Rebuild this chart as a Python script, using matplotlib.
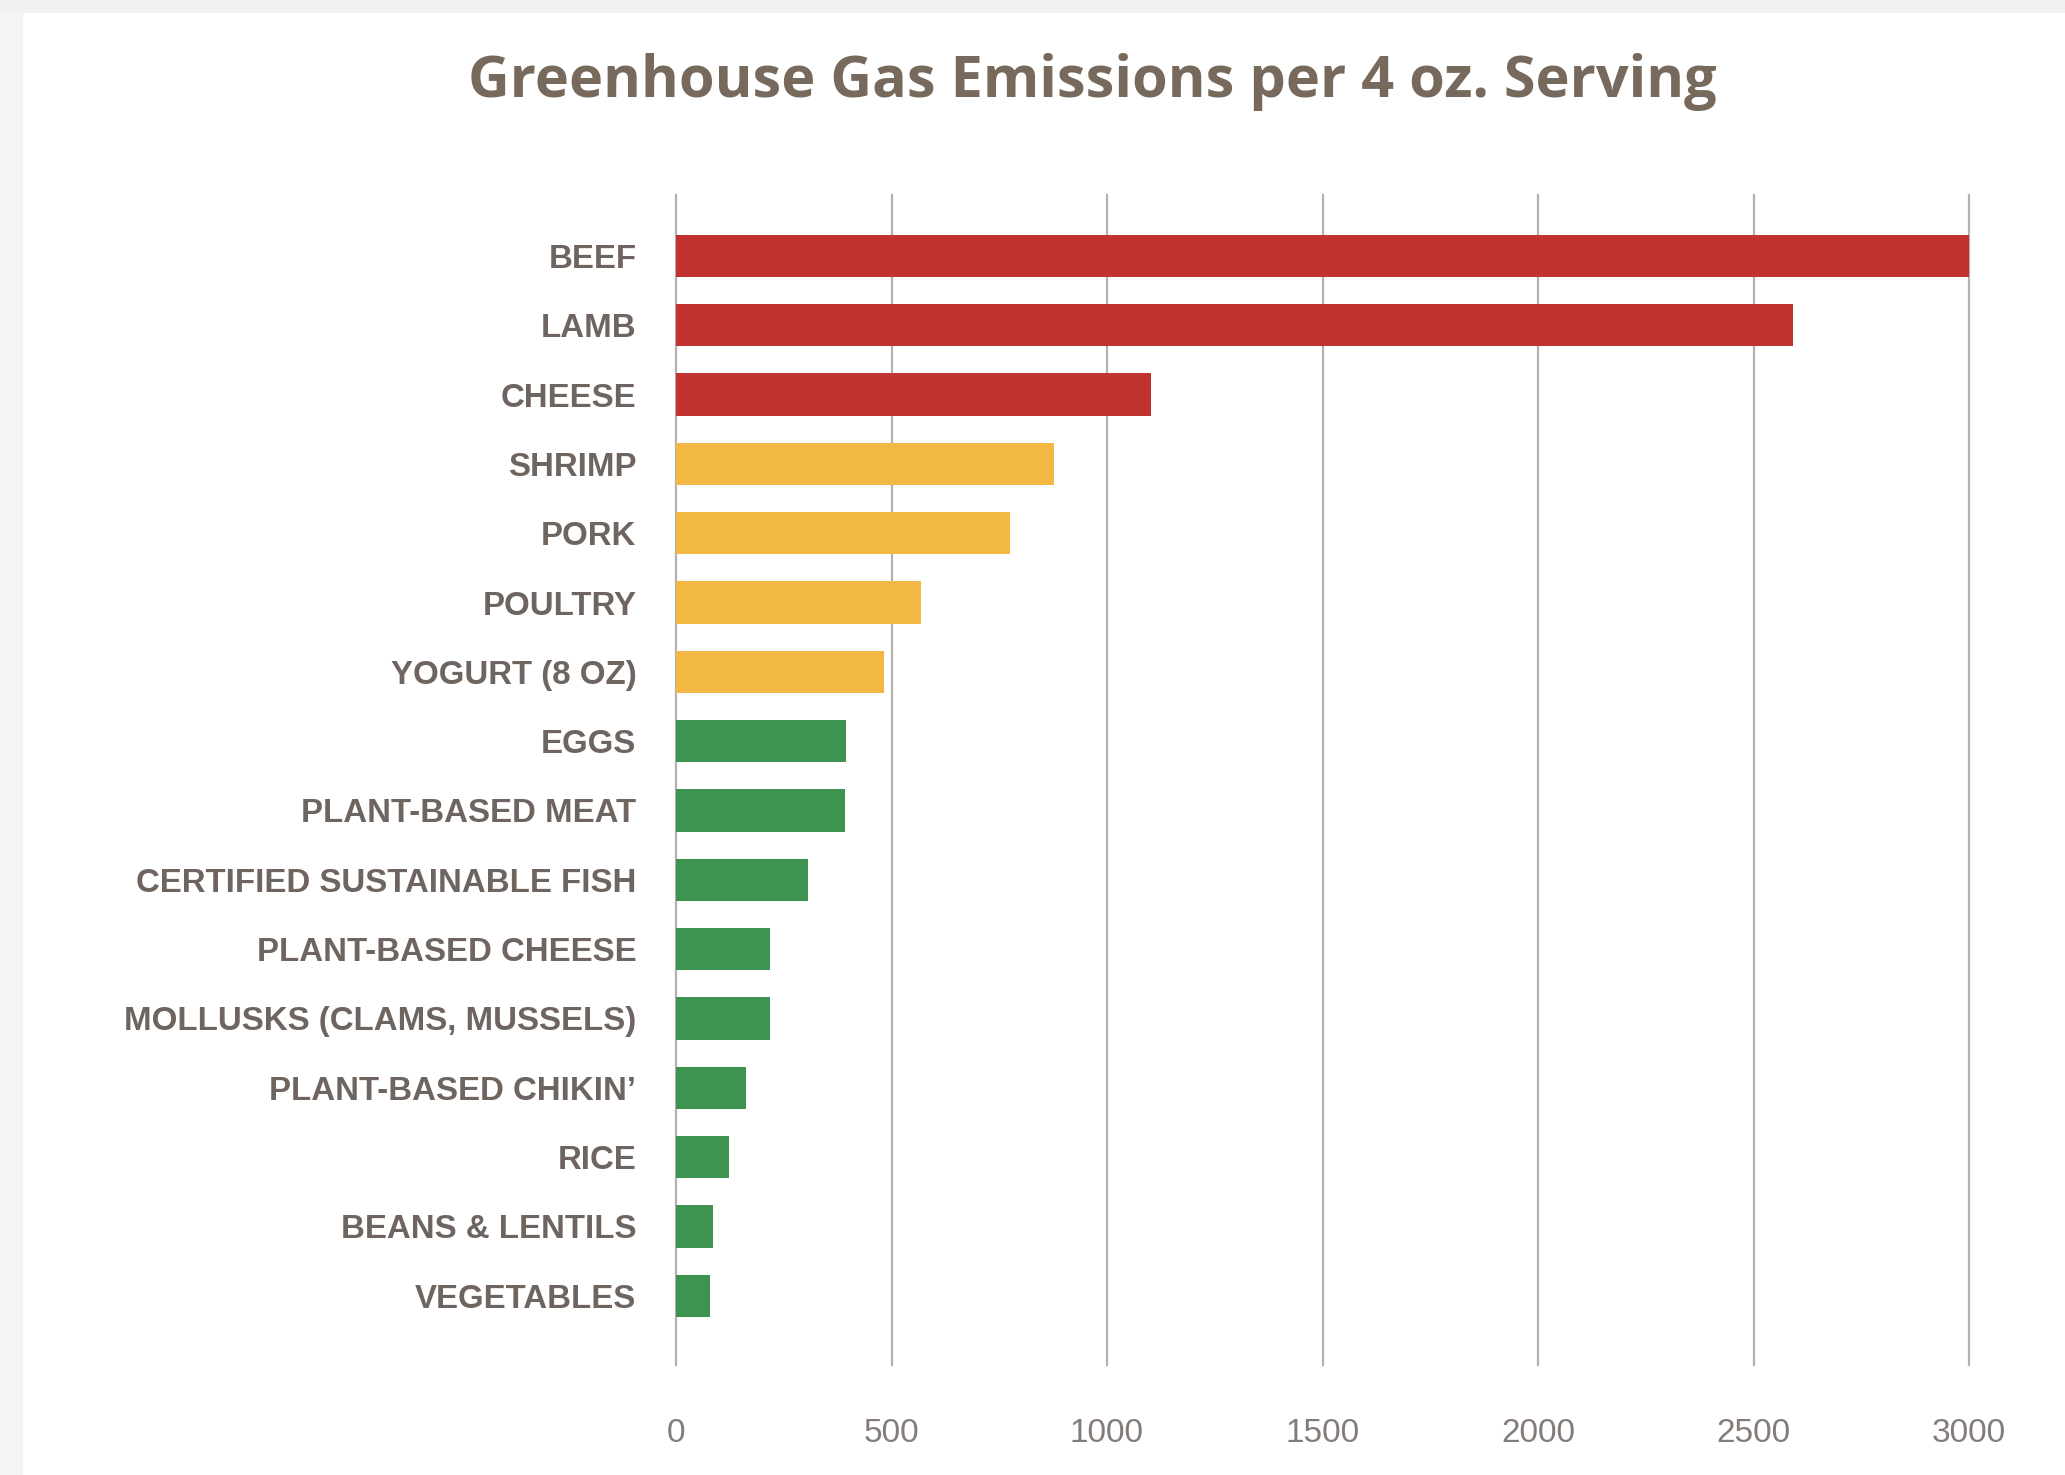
import matplotlib
matplotlib.use("Agg")
import matplotlib.pyplot as plt
from matplotlib.patches import Rectangle

categories = ["BEEF", "LAMB", "CHEESE", "SHRIMP", "PORK", "POULTRY", "YOGURT (8 OZ)",
              "EGGS", "PLANT-BASED MEAT", "CERTIFIED SUSTAINABLE FISH", "PLANT-BASED CHEESE",
              "MOLLUSKS (CLAMS, MUSSELS)", "PLANT-BASED CHIKIN\u2019", "RICE",
              "BEANS & LENTILS", "VEGETABLES"]
values = [3000, 2592, 1101, 878, 774, 568, 483, 394, 391, 307, 219, 219, 163, 123, 85, 79]
groups = ["high", "high", "high", "mid", "mid", "mid", "mid",
          "low", "low", "low", "low", "low", "low", "low", "low", "low"]
group_colors = {"high": "#c03330", "mid": "#f2b843", "low": "#3e9350"}
xticks = [0, 500, 1000, 1500, 2000, 2500, 3000]
title = "Greenhouse Gas Emissions per 4 oz. Serving"

W, H = 2065, 1475
fig = plt.figure(figsize=(W / 100, H / 100), dpi=100)
fig.patch.set_facecolor("white")

# page frame (screenshot border)
fig.patches.append(Rectangle((0, 0), 23 / W, 1, transform=fig.transFigure,
                             facecolor="#f4f4f4", edgecolor="none", zorder=0))
fig.patches.append(Rectangle((0, 1 - 13 / H), 1, 13 / H, transform=fig.transFigure,
                             facecolor="#f1f1f1", edgecolor="none", zorder=0))

left, right = 676 / W, 1969 / W
top, bottom = 1 - 195 / H, 1 - 1365 / H
ax = fig.add_axes([left, bottom, right - left, top - bottom])
ax.set_facecolor("none")

ypos = list(range(len(categories)))
ax.barh(ypos, values, height=0.61, color=[group_colors[g] for g in groups], zorder=3)

ax.set_xlim(0, 3000)
ax.set_ylim(16.0, -0.88)
for s in ax.spines.values():
    s.set_visible(False)

for xv in xticks:
    ax.axvline(xv, color="#b5b1b0", lw=1.6, zorder=1, clip_on=False)

ax.set_yticks(ypos)
ax.set_yticklabels(categories, fontfamily="Liberation Sans", fontweight="bold",
                   fontsize=23.8, color="#6e6560")
ax.tick_params(axis="y", length=0, pad=28.5)

ax.set_xticks(xticks)
ax.set_xticklabels([str(v) for v in xticks], fontfamily="Liberation Sans",
                   fontsize=24, color="#847c78")
ax.tick_params(axis="x", length=0, pad=38)

fig.text(1092 / W, 1 - 82 / H, title, ha="center", va="center",
         fontfamily="Open Sans", fontweight="bold", fontsize=41.5, color="#77695c")

fig.savefig("out.png", dpi=100, facecolor="white")
